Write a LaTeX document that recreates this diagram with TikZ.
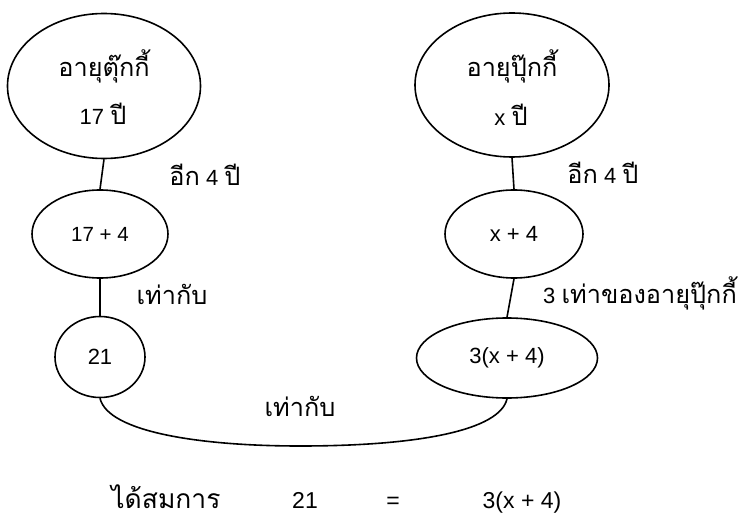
\documentclass[tikz,border=0pt]{standalone}
\usepackage{fontspec}
\setmainfont{Liberation Sans}
\newfontfamily\thaifont[Script=Thai,Scale=1.15]{Loma}
\usetikzlibrary{shapes.geometric}
\newcommand{\thx}[1]{{\thaifont #1}}
\tikzset{
  ov/.style={draw, ellipse, line width=1.6bp, inner sep=0pt, font=\fontsize{22bp}{26bp}\selectfont},
  lbl/.style={anchor=base, inner sep=0pt, font=\fontsize{22bp}{26bp}\selectfont},
  big/.style={anchor=base, inner sep=0pt, font=\fontsize{23bp}{27bp}\selectfont},
  link/.style={line width=1.6bp}
}
\begin{document}
\begin{tikzpicture}[x=1bp, y=-1bp]
\useasboundingbox (0,0) rectangle (745,522);
% ellipses
\node[ov, minimum width=193bp, minimum height=145bp] (e1) at (104,86) {};
\node[ov, minimum width=136bp, minimum height=88bp, font=\fontsize{20.5bp}{24bp}\selectfont] (e2) at (100,234) {17 + 4};
\node[ov, minimum width=90bp, minimum height=81bp] (e3) at (100,357) {21};
\node[ov, minimum width=194bp, minimum height=144bp] (e4) at (512,85) {};
\node[ov, minimum width=138bp, minimum height=88bp] (e5) at (514,234) {x + 4};
\node[ov, minimum width=181bp, minimum height=80bp] (e6) at (507,358) {3(x + 4)};
% texts inside big ellipses
\node[lbl] (t1a) at (104,77) {\thx{อายุตุ๊กกี้}};
\node[lbl] (t1b) at (103,125) {17 \thx{ปี}};
\node[lbl] (t4a) at (512,77) {\thx{อายุปุ๊กกี้}};
\node[lbl] (t4b) at (511,126) {x \thx{ปี}};
% connectors
\draw[link] (e1.south) -- (e2.north);
\draw[link] (e2.south) -- (e3.north);
\draw[link] (e4.south) -- (e5.north);
\draw[link] (e5.south) -- (e6.north);
\draw[link] (e3.south) .. controls (108,432) and (200,446) .. (300,446)
  .. controls (420,446) and (500,430) .. (e6.south);
% labels
\node[lbl] (l1) at (205,186) {\thx{อีก} 4 \thx{ปี}};
\node[lbl] (l2) at (603,184) {\thx{อีก} 4 \thx{ปี}};
\node[lbl] (l3) at (172,304) {\thx{เท่ากับ}};
\node[lbl, anchor=base west] (l4) at (543,303) {3 \thx{เท่าของอายุปุ๊กกี้}};
\node[lbl] (l5) at (300,416) {\thx{เท่ากับ}};
% equation
\node[big] (q1) at (166,508) {\thx{ได้สมการ}};
\node[big] (q2) at (305,508) {21};
\node[big] (q3) at (393,508) {=};
\node[big] (q4) at (522,508) {3(x + 4)};
\end{tikzpicture}
\end{document}
